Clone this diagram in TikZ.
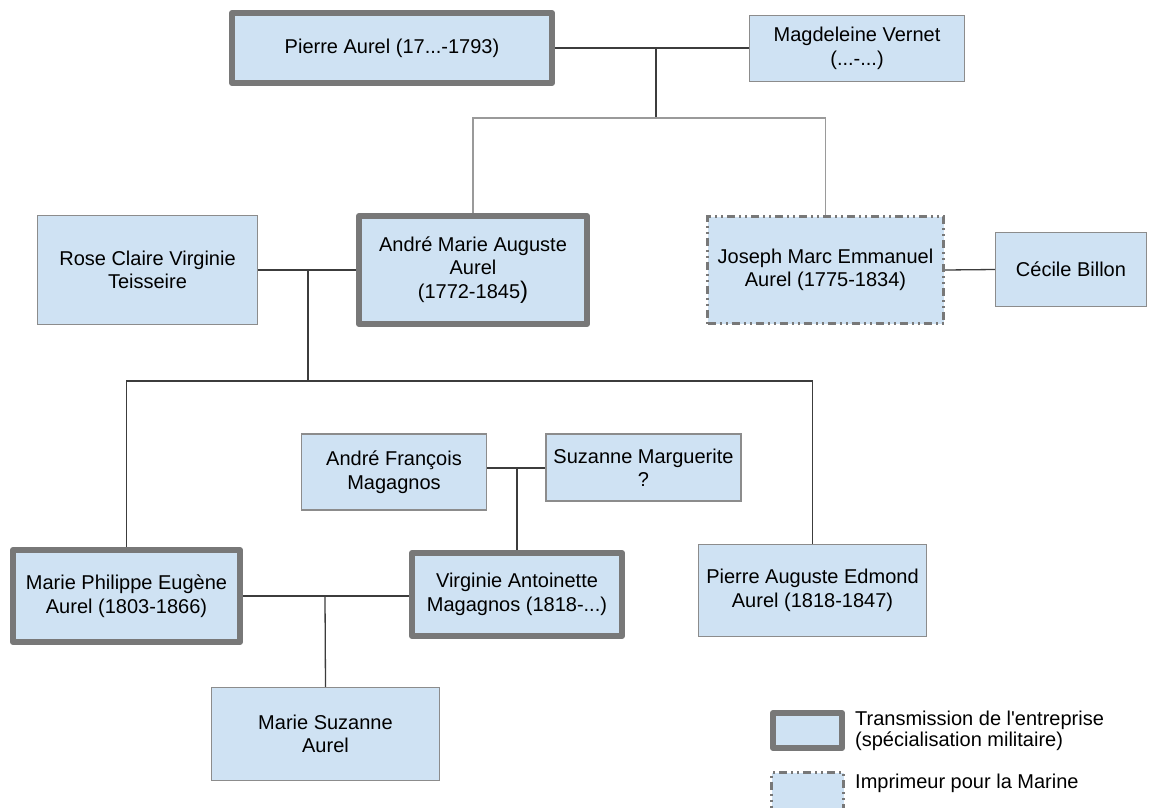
\documentclass[tikz,border=0pt]{standalone}
\usepackage{fontspec}
\setmainfont{Liberation Sans}
\usetikzlibrary{backgrounds}

\definecolor{boxblue}{HTML}{CFE2F3}
\definecolor{boxgray}{HTML}{8C8C8C}
\definecolor{heirgray}{HTML}{787878}
\definecolor{linegray}{HTML}{3C3C3C}
\definecolor{paleline}{HTML}{9A9A9A}

\tikzset{
  person/.style={draw=boxgray, fill=boxblue, line width=1.2pt, align=center,
    inner sep=0pt, font=\fontsize{20}{23.5}\selectfont},
  heir/.style={person, draw=heirgray, line width=6pt, line join=round},
  printer/.style={person, draw=heirgray, line width=3pt,
    dash pattern=on 8pt off 4pt on 2pt off 4pt on 2pt off 4pt},
  link/.style={draw=linegray, line width=1.3pt},
  palelink/.style={draw=paleline, line width=1.3pt}
}

\begin{document}
\begin{tikzpicture}[x=1pt, y=-1pt]
        \useasboundingbox (0,0) rectangle (1149,807);
        \clip (0,0) rectangle (1149,807);
        % premiere generation
        \node[heir, minimum width=320, minimum height=70] (pierre) at (392,48) {Pierre Aurel (17...-1793)};
        \node[person, minimum width=215, minimum height=66] (magdeleine) at (857,48.5) {Magdeleine Vernet\\(...-...)};
        % deuxieme generation
        \node[person, minimum width=220, minimum height=109] (rose) at (147.5,270) {Rose Claire Virginie\\Teisseire};
        \node[heir, minimum width=228, minimum height=108] (andre) at (473,270) {Andr\'e Marie Auguste\\Aurel\\(1772-1845{\fontsize{24}{24}\selectfont)}};
        \node[printer, minimum width=236, minimum height=107] (joseph) at (825.5,270) {Joseph Marc Emmanuel\\Aurel (1775-1834)};
        \node[person, minimum width=151, minimum height=74] (cecile) at (1071,269.5) {C\'ecile Billon};
        % famille Magagnos
        \node[person, minimum width=185, minimum height=76] (francois) at (394,472) {Andr\'e Fran\c{c}ois\\Magagnos};
        \node[person, minimum width=195, minimum height=67] (suzanne) at (643.5,467.5) {Suzanne Marguerite\\?};
        % troisieme generation
        \node[heir, minimum width=227, minimum height=92] (philippe) at (126.5,596) {Marie Philippe Eug\`ene\\Aurel (1803-1866)};
        \node[heir, minimum width=210, minimum height=83] (virginie) at (517,594.5) {Virginie Antoinette\\Magagnos (1818-...)};
        \node[person, minimum width=228, minimum height=92] (edmond) at (812.5,590.5) {Pierre Auguste Edmond\\Aurel (1818-1847)};
        \node[person, minimum width=228, minimum height=93] (msuzanne) at (325.5,734) {Marie Suzanne\\Aurel};
        % legende
        \node[heir, minimum width=69, minimum height=35] (legheir) at (807.5,730.5) {};
        \node[anchor=west, align=left, inner sep=0pt, font=\fontsize{20}{21}\selectfont] (legheirtxt) at (855,730.5) {Transmission de l\textquotesingle entreprise\\(sp\'ecialisation militaire)};
        \node[printer, minimum width=72, minimum height=39] (legprint) at (807.5,792) {};
        \node[anchor=west, inner sep=0pt, font=\fontsize{20}{21}\selectfont] (legprinttxt) at (855,783) {Imprimeur pour la Marine};
        % liens
        \coordinate (c1) at (656,48);
        \coordinate (c1b) at (656,118);
        \coordinate (c2) at (308,270);
        \coordinate (c2b) at (308,381);
        \coordinate (c3) at (517,468);
        \coordinate (c4) at (325,596);
        \begin{scope}[on background layer]
        \fill[white] (0,0) rectangle (1149,807);
        \draw[link] (pierre.east) -- (pierre.east -| magdeleine.west);
        \draw[link] (c1) -- (c1b);
        \draw[palelink] (andre.north) |- (c1b) -| (joseph.north);
        \draw[link] (rose.east) -- (andre.west);
        \draw[link] (c2) -- (c2b);
        \draw[link] (philippe.north) |- (c2b) -| (edmond.north);
        \draw[link] (joseph.east) -- (cecile.west);
        \draw[link] (francois.east |- c3) -- (suzanne.west |- c3);
        \draw[link] (c3) -- (virginie.north);
        \draw[link] (philippe.east) -- (philippe.east -| virginie.west);
        \draw[link] (c4) -- (msuzanne.north);
        \end{scope}
\end{tikzpicture}
\end{document}
